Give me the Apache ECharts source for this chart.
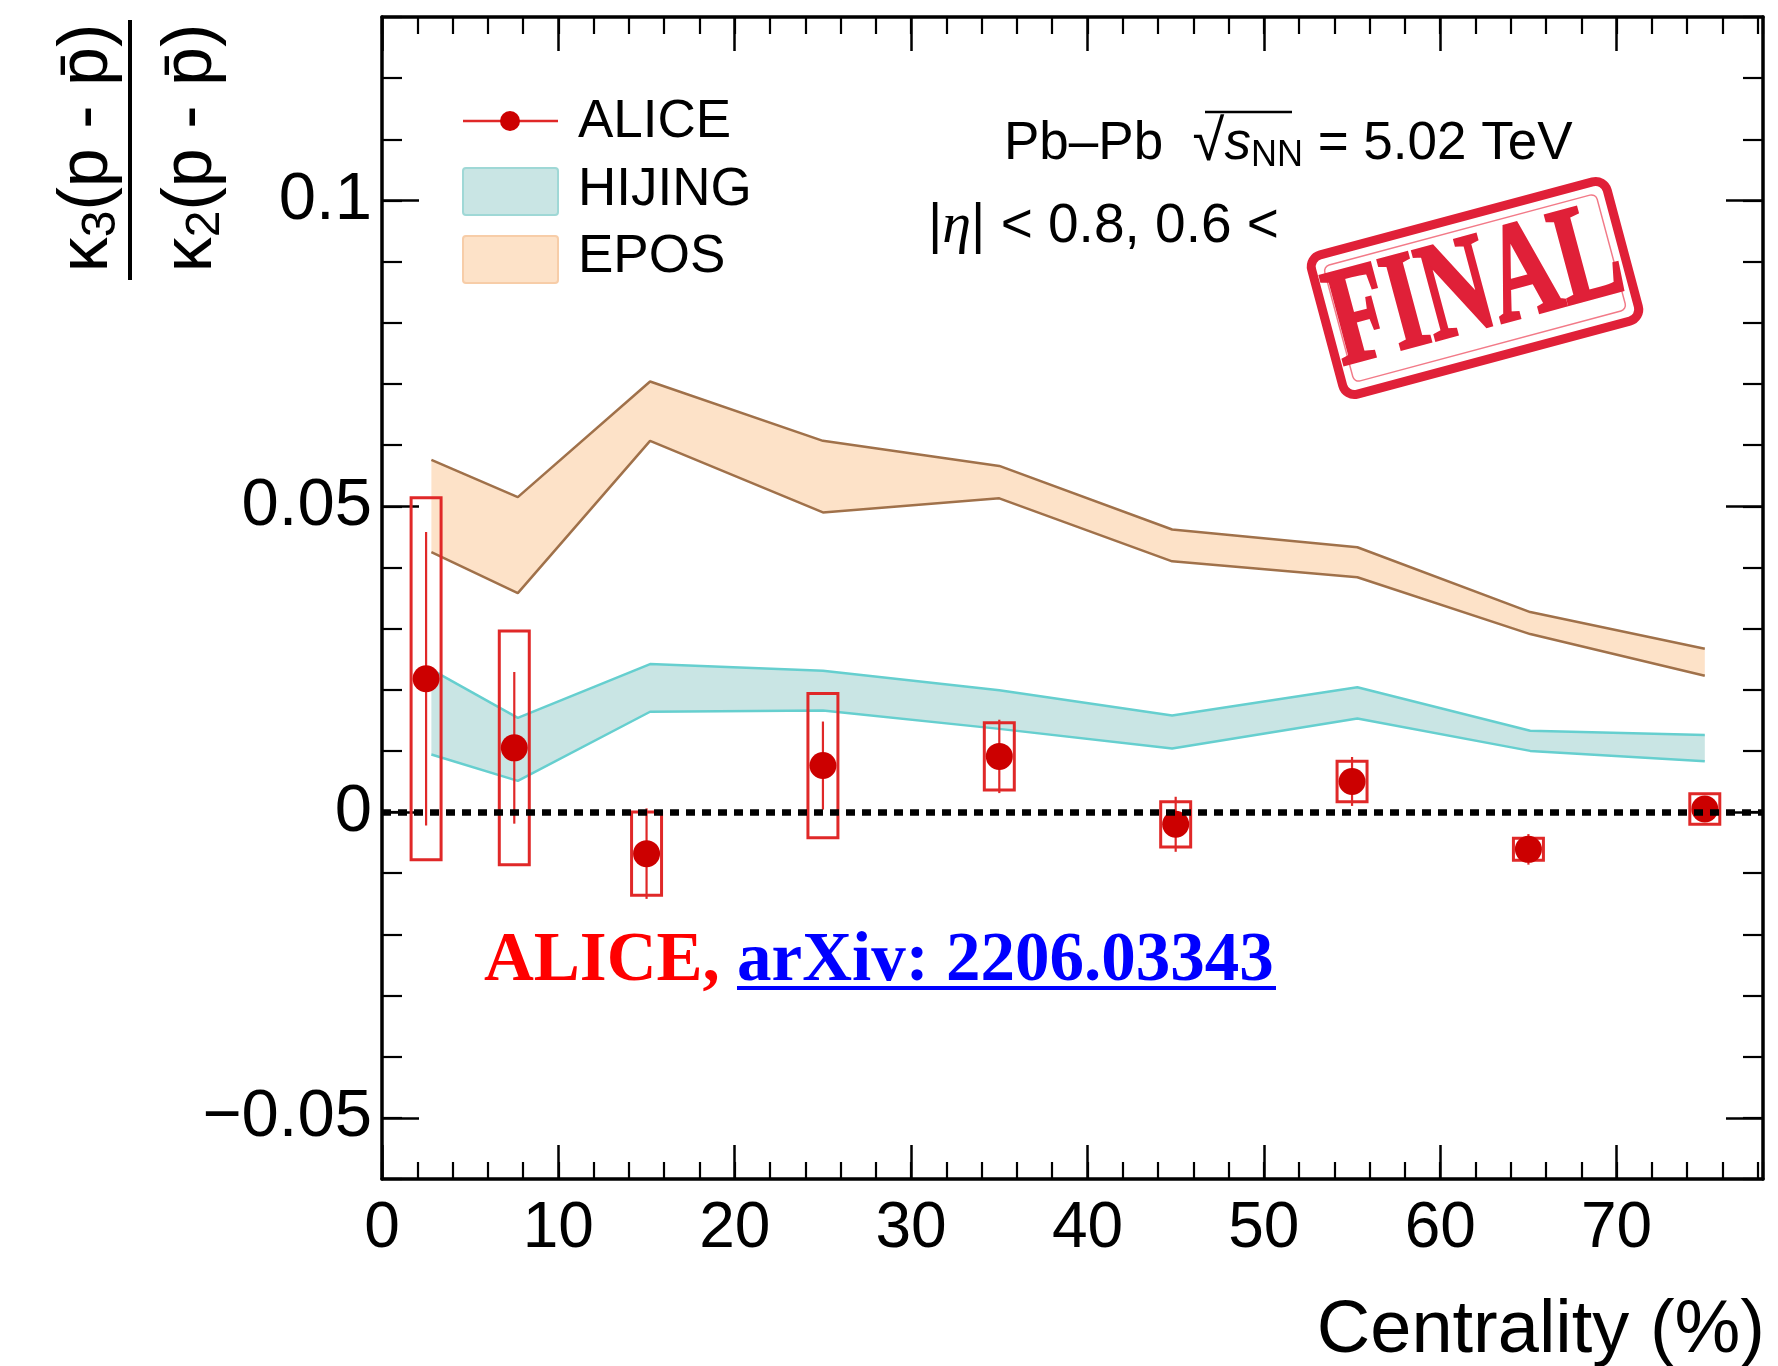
<!DOCTYPE html>
<html>
<head>
<meta charset="utf-8">
<script src="https://cdn.jsdelivr.net/npm/echarts@6/dist/echarts.min.js"></script>
<style>
html,body{margin:0;padding:0;background:#fff;}
#chart{width:1778px;height:1366px;}
</style>
</head>
<body>
<div id="chart"></div>
<script>
// ---------------- data ----------------
const centrality = [2.5, 7.5, 15, 25, 35, 45, 55, 65, 75];
const aliceValue = [0.0218, 0.0105, -0.0068, 0.0076, 0.0091, -0.0020, 0.0050, -0.0061, 0.0005];
const aliceStat  = [0.0240, 0.0124, 0.0074, 0.0072, 0.0060, 0.0045, 0.0040, 0.0025, 0.0020];
const aliceSys   = [0.0296, 0.0191, 0.0068, 0.0118, 0.0055, 0.0037, 0.0033, 0.0018, 0.0025];

const modelCentrality = [2.8, 7.7, 15.2, 25, 35, 44.8, 55.3, 65.1, 75];
const hijingUpper = [0.0233, 0.0154, 0.0242, 0.0231, 0.0199, 0.0158, 0.0204, 0.0133, 0.0126];
const hijingLower = [0.0094, 0.0051, 0.0164, 0.0166, 0.0136, 0.0104, 0.0153, 0.0100, 0.0083];
const eposUpper   = [0.0576, 0.0515, 0.0704, 0.0607, 0.0566, 0.0462, 0.0433, 0.0327, 0.0267];
const eposLower   = [0.0425, 0.0358, 0.0607, 0.0490, 0.0513, 0.0410, 0.0384, 0.0291, 0.0223];

const xTickValues = [0, 10, 20, 30, 40, 50, 60, 70];
const xTickLabels = ['0', '10', '20', '30', '40', '50', '60', '70'];
const yTickValues = [-0.05, 0, 0.05, 0.1];
const yTickLabels = ['\u22120.05', '0', '0.05', '0.1'];

// ---------------- style ----------------
const SANS = "'Liberation Sans', Arial, Helvetica, sans-serif";
const SERIF = "'Liberation Serif', 'Times New Roman', serif";
const X_MIN = 0, X_MAX = 78.3, Y_MIN = -0.06, Y_MAX = 0.13;
const BOX_HALF_W = 0.85;
const RED = '#cc0000', BOX_RED = '#e02828';
const HIJING_FILL = '#c9e5e4', HIJING_EDGE = '#66cfcf';
const EPOS_FILL = '#fde2c8', EPOS_EDGE = '#a0714a';

const chart = echarts.init(document.getElementById('chart'), null, {renderer: 'canvas'});

function xAxisDef(pos, major, labels) {
  return {
    type: 'value', position: pos, min: X_MIN, max: X_MAX, interval: 2,
    axisLine: {show: !major, onZero: false, lineStyle: {color: '#000', width: 3.5}},
    axisTick: major
      ? {show: true, inside: true, length: 34, customValues: xTickValues, lineStyle: {color: '#000', width: 2.5}}
      : {show: true, inside: true, length: 17, lineStyle: {color: '#000', width: 2.2}},
    axisLabel: labels
      ? {show: true, customValues: xTickValues, margin: 18, color: '#000', fontSize: 64, fontFamily: SANS,
         formatter: v => { const i = xTickValues.findIndex(t => Math.abs(t - v) < 1e-6); return i >= 0 ? xTickLabels[i] : ''; }}
      : {show: false},
    splitLine: {show: false}
  };
}
function yAxisDef(pos, major, labels) {
  return {
    type: 'value', position: pos, min: Y_MIN, max: Y_MAX, interval: 0.01,
    axisLine: {show: !major, onZero: false, lineStyle: {color: '#000', width: 3.5}},
    axisTick: major
      ? {show: true, inside: true, length: 37, customValues: yTickValues, lineStyle: {color: '#000', width: 2.5}}
      : {show: true, inside: true, length: 20, lineStyle: {color: '#000', width: 2.2}},
    axisLabel: labels
      ? {show: true, customValues: yTickValues, margin: 10, color: '#000', fontSize: 67, fontFamily: SANS,
         formatter: v => { const i = yTickValues.findIndex(t => Math.abs(t - v) < 1e-9); return i >= 0 ? yTickLabels[i] : ''; }}
      : {show: false},
    splitLine: {show: false}
  };
}

function bandRenderer(xs, up, lo, fill) {
  return function (params, api) {
    if (params.dataIndex !== 0) return null;
    const pts = [];
    for (let i = 0; i < xs.length; i++) pts.push(api.coord([xs[i], up[i]]));
    for (let i = xs.length - 1; i >= 0; i--) pts.push(api.coord([xs[i], lo[i]]));
    return {type: 'polygon', shape: {points: pts}, style: {fill: fill}};
  };
}

const yTitleRich = {k: {fontSize: 70, fontFamily: SANS, fill: '#000', verticalAlign: 'middle', lineHeight: 76},
                    s: {fontSize: 48, fontFamily: SANS, fill: '#000', verticalAlign: 'bottom', lineHeight: 48}};

const option = {
  backgroundColor: '#fff',
  animation: false,
  grid: {left: 382, top: 17, right: 15, bottom: 187, containLabel: false},
  xAxis: [xAxisDef('bottom', false, true), xAxisDef('bottom', true, false), xAxisDef('top', false, false), xAxisDef('top', true, false)],
  yAxis: [yAxisDef('left', false, true), yAxisDef('left', true, false), yAxisDef('right', false, false), yAxisDef('right', true, false)],
  series: [
    {type: 'custom', name: 'EPOS', z: 1, silent: true,
     data: modelCentrality.map((x, i) => [x, eposLower[i], eposUpper[i]]),
     encode: {x: 0, y: [1, 2]},
     renderItem: bandRenderer(modelCentrality, eposUpper, eposLower, EPOS_FILL)},
    {type: 'custom', name: 'HIJING', z: 1, silent: true,
     data: modelCentrality.map((x, i) => [x, hijingLower[i], hijingUpper[i]]),
     encode: {x: 0, y: [1, 2]},
     renderItem: bandRenderer(modelCentrality, hijingUpper, hijingLower, HIJING_FILL)},
    {type: 'line', z: 2, silent: true, symbol: 'none', data: modelCentrality.map((x, i) => [x, eposUpper[i]]), lineStyle: {color: EPOS_EDGE, width: 2.5}},
    {type: 'line', z: 2, silent: true, symbol: 'none', data: modelCentrality.map((x, i) => [x, eposLower[i]]), lineStyle: {color: EPOS_EDGE, width: 2.5}},
    {type: 'line', z: 2, silent: true, symbol: 'none', data: modelCentrality.map((x, i) => [x, hijingUpper[i]]), lineStyle: {color: HIJING_EDGE, width: 2.5}},
    {type: 'line', z: 2, silent: true, symbol: 'none', data: modelCentrality.map((x, i) => [x, hijingLower[i]]), lineStyle: {color: HIJING_EDGE, width: 2.5},
     markLine: {silent: true, symbol: 'none', label: {show: false},
                lineStyle: {color: '#000', width: 6.5, type: [9, 7]},
                data: [{yAxis: 0}]}},
    {type: 'custom', name: 'ALICE sys', z: 3, silent: true,
     data: centrality.map((x, i) => [x, aliceValue[i], aliceSys[i]]),
     encode: {x: 0, y: 1},
     renderItem: function (params, api) {
       const x = api.value(0), y = api.value(1), s = api.value(2);
       const p1 = api.coord([x - BOX_HALF_W, y + s]);
       const p2 = api.coord([x + BOX_HALF_W, y - s]);
       return {type: 'rect', shape: {x: p1[0], y: p1[1], width: p2[0] - p1[0], height: p2[1] - p1[1]},
               style: {fill: 'none', stroke: BOX_RED, lineWidth: 3}};
     }},
    {type: 'custom', name: 'ALICE stat', z: 3, silent: true,
     data: centrality.map((x, i) => [x, aliceValue[i], aliceStat[i]]),
     encode: {x: 0, y: 1},
     renderItem: function (params, api) {
       const x = api.value(0), y = api.value(1), s = api.value(2);
       const p1 = api.coord([x, y + s]);
       const p2 = api.coord([x, y - s]);
       return {type: 'line', shape: {x1: p1[0], y1: p1[1], x2: p2[0], y2: p2[1]},
               style: {stroke: BOX_RED, lineWidth: 2.2}};
     }},
    {type: 'scatter', name: 'ALICE', z: 4, silent: true, symbol: 'circle', symbolSize: 27,
     itemStyle: {color: RED, opacity: 1},
     data: centrality.map((x, i) => [x, aliceValue[i]])}
  ],
  graphic: [
    // y-axis title (fraction)
    {type: 'text', x: 88, y: 148, rotation: Math.PI / 2, z: 10,
     style: {text: '{k|κ}{s|3}{k|(p - p\u0304)}', align: 'center', verticalAlign: 'middle', textAlign: 'center', textVerticalAlign: 'middle',
             fill: '#000', font: '70px ' + SANS, rich: yTitleRich}},
    {type: 'line', z: 10, shape: {x1: 130, y1: 20, x2: 130, y2: 280}, style: {stroke: '#000', lineWidth: 4}},
    {type: 'text', x: 192, y: 148, rotation: Math.PI / 2, z: 10,
     style: {text: '{k|κ}{s|2}{k|(p - p\u0304)}', align: 'center', verticalAlign: 'middle', textAlign: 'center', textVerticalAlign: 'middle',
             fill: '#000', font: '70px ' + SANS, rich: yTitleRich}},
    // x-axis title
    {type: 'text', x: 1765, y: 1332, z: 10,
     style: {text: 'Centrality (%)', align: 'right', verticalAlign: 'middle', textAlign: 'right', textVerticalAlign: 'middle',
             fill: '#000', font: '74px ' + SANS}},
    // legend
    {type: 'line', z: 10, shape: {x1: 463, y1: 121, x2: 558, y2: 121}, style: {stroke: BOX_RED, lineWidth: 2.5}},
    {type: 'circle', z: 11, shape: {cx: 510, cy: 121, r: 10}, style: {fill: RED}},
    {type: 'text', x: 578, y: 122, z: 10, style: {text: 'ALICE', verticalAlign: 'middle', textVerticalAlign: 'middle', fill: '#000', font: '53px ' + SANS}},
    {type: 'rect', z: 10, shape: {x: 463, y: 168, width: 95, height: 47, r: 3}, style: {fill: HIJING_FILL, stroke: '#9fd8d6', lineWidth: 2}},
    {type: 'text', x: 578, y: 190, z: 10, style: {text: 'HIJING', verticalAlign: 'middle', textVerticalAlign: 'middle', fill: '#000', font: '53px ' + SANS}},
    {type: 'rect', z: 10, shape: {x: 463, y: 236, width: 95, height: 47, r: 3}, style: {fill: EPOS_FILL, stroke: '#f7cda8', lineWidth: 2}},
    {type: 'text', x: 578, y: 257, z: 10, style: {text: 'EPOS', verticalAlign: 'middle', textVerticalAlign: 'middle', fill: '#000', font: '53px ' + SANS}},
    // system text
    {type: 'text', x: 1004, y: 144, z: 10,
     style: {text: '{n|Pb\u2013Pb  }{r|\u221A}{i|s}{sub|NN}{n| = 5.02 TeV}', verticalAlign: 'middle', textVerticalAlign: 'middle', fill: '#000', font: '53px ' + SANS,
             rich: {n: {fontSize: 53, fontFamily: SANS, fill: '#000', verticalAlign: 'middle', lineHeight: 60},
                    r: {fontSize: 58, fontFamily: SANS, fill: '#000', verticalAlign: 'middle', lineHeight: 60},
                    i: {fontSize: 53, fontFamily: SANS, fontStyle: 'italic', fill: '#000', verticalAlign: 'middle', lineHeight: 60},
                    sub: {fontSize: 36, fontFamily: SANS, fill: '#000', verticalAlign: 'bottom', lineHeight: 36}}}},
    {type: 'line', z: 10, shape: {x1: 1205, y1: 112, x2: 1292, y2: 112}, style: {stroke: '#000', lineWidth: 2.5}},
    {type: 'text', x: 928, y: 227, z: 10,
     style: {text: '{n||}{e|η}{n|| < 0.8, 0.6 <}', verticalAlign: 'middle', textVerticalAlign: 'middle', fill: '#000', font: '55px ' + SANS,
             rich: {n: {fontSize: 55, fontFamily: SANS, fill: '#000'},
                    e: {fontSize: 58, fontFamily: SERIF, fontStyle: 'italic', fill: '#000'}}}},
    // FINAL stamp
    {type: 'group', x: 1475, y: 288, rotation: 15 * Math.PI / 180, z: 20,
     children: [
       {type: 'rect', shape: {x: -153, y: -72, width: 306, height: 144, r: 12}, style: {fill: '#fff', stroke: '#e02038', lineWidth: 9}},
       {type: 'rect', shape: {x: -141, y: -60, width: 282, height: 120, r: 6}, style: {fill: 'none', stroke: '#f27a88', lineWidth: 1.5}},
       {type: 'text', x: 0, y: 4, scaleX: 0.9, scaleY: 1.32,
        style: {text: 'FINAL', align: 'center', verticalAlign: 'middle', textAlign: 'center', textVerticalAlign: 'middle',
                fill: '#e02038', stroke: '#e02038', lineWidth: 2.5, font: 'bold 106px ' + SERIF}}
     ]},
    // reference
    {type: 'text', x: 484, y: 962, z: 10,
     style: {text: '{a|ALICE, }{b|arXiv: 2206.03343}', verticalAlign: 'middle', textVerticalAlign: 'middle', font: 'bold 69px ' + SERIF,
             rich: {a: {fontSize: 69, fontFamily: SERIF, fontWeight: 'bold', fill: '#ff0000'},
                    b: {fontSize: 69, fontFamily: SERIF, fontWeight: 'bold', fill: '#0000ff'}}}},
    {type: 'line', z: 10, shape: {x1: 737, y1: 988, x2: 1276, y2: 988}, style: {stroke: '#0000ff', lineWidth: 4}}
  ]
};
chart.setOption(option);
</script>
</body>
</html>
